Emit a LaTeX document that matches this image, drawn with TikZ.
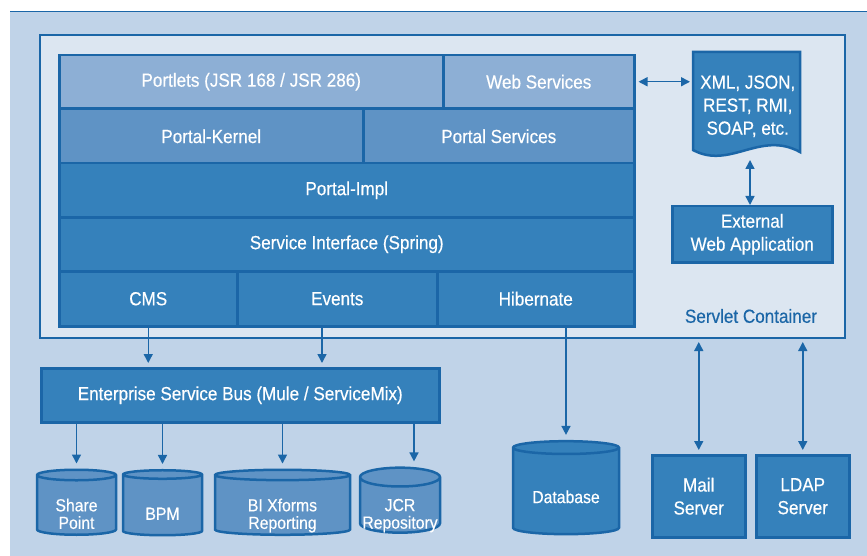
\documentclass[tikz,border=0pt]{standalone}
\usepackage{fontspec}
\setmainfont{Liberation Sans}[FakeStretch=0.9,FakeBold=0.4]
\usetikzlibrary{arrows.meta,shapes.geometric}
\definecolor{bgblue}{HTML}{C0D3E8}
\definecolor{paleblue}{HTML}{DCE6F1}
\definecolor{lineblue}{HTML}{1B66A7}
\definecolor{lightrow}{HTML}{8DAFD5}
\definecolor{midrow}{HTML}{5F93C5}
\definecolor{darkrow}{HTML}{3581BB}
\newcommand\drumtext[2][15pt]{\raisebox{-#1}[0pt][0pt]{\renewcommand\arraystretch{0.95}\begin{tabular}{@{}c@{}}#2\end{tabular}}}
\begin{document}
\begin{tikzpicture}[x=1pt,y=-1pt,
  layer/.style={draw=lineblue,line width=2.5pt,text=white,inner sep=0pt,anchor=north west,
    font=\fontsize{19}{23}\selectfont,align=center},
  drum/.style={shape=cylinder,shape border rotate=90,draw=lineblue,line width=2.5pt,text=white,
    inner sep=0pt,font=\fontsize{17.5}{17}\selectfont},
  link/.style={lineblue,line width=1.5pt,-{Triangle[length=9pt,width=9pt]}},
  twoway/.style={lineblue,line width=1.5pt,{Triangle[length=9pt,width=9pt]}-{Triangle[length=9pt,width=9pt]}}]
\useasboundingbox (0,0) rectangle (867,556);
\fill[bgblue] (10,12) rectangle (867,556);
\draw[lineblue,line width=1pt] (10,12) -- (867,12);

\draw[draw=lineblue,fill=paleblue,line width=2.5pt] (40,35) rectangle (845,338);
\node[text=lineblue,font=\fontsize{19}{23}\selectfont] (servlet) at (751,316) {Servlet Container};

\node[layer,fill=lightrow,minimum width=384,minimum height=53] (portlets) at (58,54) {Portlets (JSR 168 / JSR 286)};
\node[layer,fill=lightrow,minimum width=191,minimum height=53] (websvc) at (442,54) {Web Services};
\node[layer,fill=midrow,minimum width=304,minimum height=54] (kernel) at (58,108) {Portal-Kernel};
\node[layer,fill=midrow,minimum width=271,minimum height=54] (portalsvc) at (362,108) {Portal Services};
\node[layer,fill=darkrow,minimum width=575,minimum height=54] (impl) at (58,162) {Portal-Impl};
\node[layer,fill=darkrow,minimum width=575,minimum height=54] (svcif) at (58,216) {Service Interface (Spring)};
\node[layer,fill=darkrow,minimum width=178,minimum height=55] (cms) at (58,270) {CMS};
\node[layer,fill=darkrow,minimum width=200,minimum height=55] (events) at (236,270) {Events};
\node[layer,fill=darkrow,minimum width=197,minimum height=55] (hibernate) at (436,270) {Hibernate};

\draw[draw=lineblue,fill=darkrow,line width=2.5pt] (693,52) -- (800,52) -- (800,152)
  .. controls (760,130) and (730,170) .. (693,150) -- cycle;
\node[layer,draw=none,minimum width=107,minimum height=106] (formats) at (693,52) {XML, JSON,\\REST, RMI,\\SOAP, etc.};
\node[layer,fill=darkrow,minimum width=160,minimum height=56] (extapp) at (671,205) {External\\Web Application};
\coordinate (formatsout) at (750,160);
\draw[twoway,shorten <=3pt,shorten >=3pt] (websvc.east) -- (websvc.east -| formats.west);
\draw[twoway] (formatsout) -- (formatsout |- extapp.north);

\node[layer,fill=darkrow,minimum width=398,minimum height=54] (esb) at (40,367) {Enterprise Service Bus (Mule / ServiceMix)};
\coordinate (eventsout) at (322,325);
\draw[link,shorten >=4pt] (cms.south) -- (cms.south |- esb.north);
\draw[link,shorten >=4pt] (eventsout) -- (eventsout |- esb.north);

\node[drum,fill=midrow,minimum width=79,minimum height=65,aspect=0.25] (sharept) at (76.5,505.5) {\drumtext{Share\\Point}};
\node[drum,fill=midrow,minimum width=79,minimum height=65,aspect=0.25] (bpm) at (162.5,505.5) {\drumtext{BPM}};
\node[drum,fill=midrow,minimum width=135,minimum height=65,aspect=0.15] (bixf) at (282.5,505.5) {\drumtext{BI Xforms\\Reporting}};
\node[drum,fill=midrow,minimum width=80,minimum height=65,aspect=0.25] (jcr) at (400,505.5) {\drumtext{JCR\\Repository}};
\coordinate (jcrin) at (414,421);
\draw[link,shorten >=5pt] (esb.south -| sharept.north) -- (sharept.north);
\draw[link,shorten >=5pt] (esb.south -| bpm.north) -- (bpm.north);
\draw[link,shorten >=5pt] (esb.south -| bixf.north) -- (bixf.north);
\draw[link,shorten >=5pt] (jcrin) -- (jcrin |- jcr.north);

\node[drum,fill=darkrow,minimum width=106,minimum height=93,aspect=0.19] (database) at (566,491.5) {\drumtext[12pt]{Database}};
\draw[link,shorten >=5pt] (hibernate.south -| database.north) -- (database.north);

\node[layer,fill=darkrow,minimum width=93,minimum height=82] (mail) at (651,454) {Mail\\Server};
\node[layer,fill=darkrow,minimum width=93,minimum height=82] (ldap) at (755,454) {LDAP\\Server};
\draw[twoway,shorten <=4pt,shorten >=4pt] (mail.north) -- (mail.north |- 0,338);
\draw[twoway,shorten <=4pt,shorten >=4pt] (ldap.north) -- (ldap.north |- 0,338);
\end{tikzpicture}
\end{document}
